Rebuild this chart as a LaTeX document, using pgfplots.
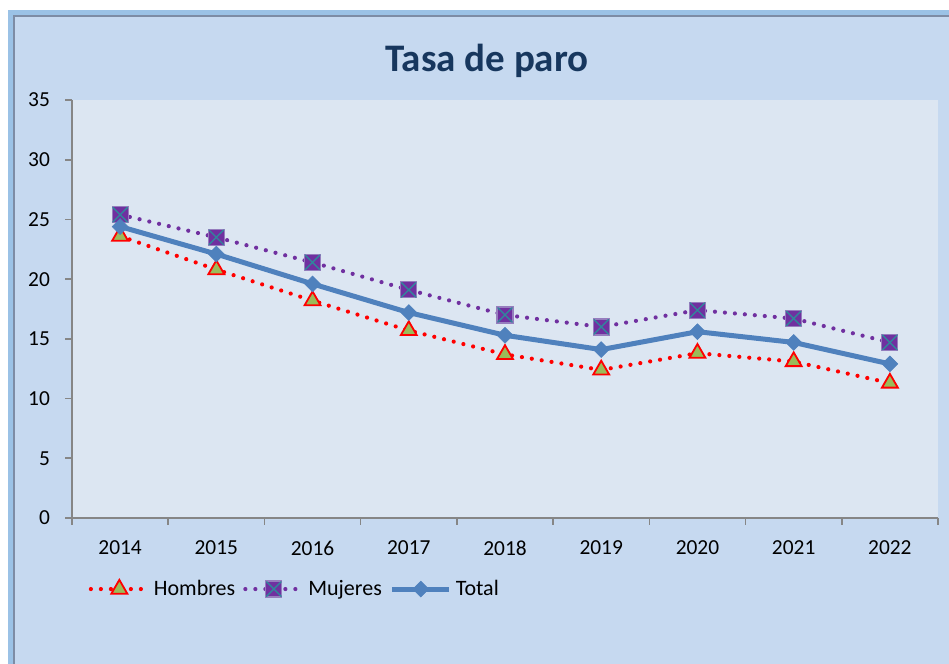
\documentclass[border=0pt]{standalone}
\usepackage{pgfplots}
\pgfplotsset{compat=1.18}
\usepackage{fontspec}
\setmainfont{Carlito}
\definecolor{chartbg}{RGB}{198,217,240}
\definecolor{plotbg}{RGB}{220,230,242}
\definecolor{borderblue}{RGB}{155,194,230}
\definecolor{bordergrey}{RGB}{125,140,165}
\definecolor{axisgray}{RGB}{134,134,134}
\definecolor{titleblue}{RGB}{23,55,94}
\definecolor{hred}{RGB}{255,0,0}
\definecolor{hgreen}{RGB}{155,187,89}
\definecolor{mpurple}{RGB}{112,48,160}
\definecolor{mstroke}{RGB}{150,125,190}
\definecolor{xteal}{RGB}{49,133,156}
\definecolor{tblue}{RGB}{79,129,189}
\pgfdeclareplotmark{sqx}{%
  \pgfpathrectangle{\pgfpoint{-\pgfplotmarksize}{-\pgfplotmarksize}}{\pgfpoint{2\pgfplotmarksize}{2\pgfplotmarksize}}%
  \pgfusepathqfillstroke
  \begin{pgfscope}%
  \pgfsetstrokecolor{xteal}%
  \pgfsetlinewidth{0.7pt}%
  \pgfpathmoveto{\pgfpoint{-0.9\pgfplotmarksize}{-0.9\pgfplotmarksize}}%
  \pgfpathlineto{\pgfpoint{0.9\pgfplotmarksize}{0.9\pgfplotmarksize}}%
  \pgfpathmoveto{\pgfpoint{-0.9\pgfplotmarksize}{0.9\pgfplotmarksize}}%
  \pgfpathlineto{\pgfpoint{0.9\pgfplotmarksize}{-0.9\pgfplotmarksize}}%
  \pgfusepathqstroke
  \end{pgfscope}%
}
\begin{document}
\begin{tikzpicture}
\useasboundingbox (0,0) rectangle (474.5pt,332pt);
\begin{scope}
\clip (0,0) rectangle (474.5pt,332pt);
\fill[white] (0,0) rectangle (474.5pt,332pt);
\fill[borderblue] ({8*0.5pt},-10pt) rectangle (490pt,{(664-10)*0.5pt});
\fill[chartbg] ({14*0.5pt},-10pt) rectangle (490pt,{(664-16)*0.5pt});
\draw[bordergrey, line width=0.6pt] ({14*0.5pt},-10pt) -- ({14*0.5pt},{(664-16)*0.5pt}) -- (490pt,{(664-16)*0.5pt});
\end{scope}
\node[font=\bfseries\fontsize{19.5}{22}\selectfont, text=titleblue, anchor=base] at ({487*0.5pt},{(664-72)*0.5pt}) {Tasa de paro};
\begin{axis}[
  at={(36pt,73pt)}, anchor=south west, scale only axis,
  width=433pt, height=209pt,
  xmin=-0.5, xmax=8.5, ymin=0, ymax=35,
  axis x line*=bottom, axis y line*=left,
  x axis line style={-, draw=axisgray, line width=0.8pt},
  y axis line style={-, draw=axisgray, line width=0.8pt},
  axis background/.style={fill=plotbg},
  xtick={0,1,2,3,4,5,6,7,8},
  xticklabels={2014,2015,2016,2017,2018,2019,2020,2021,2022},
  major x tick style={draw=none},
  minor xtick={-0.5,0.5,1.5,2.5,3.5,4.5,5.5,6.5,7.5,8.5},
  minor tick length=3.5pt,
  ytick={0,5,10,15,20,25,30,35},
  tick align=outside, major tick length=3.5pt,
  tick style={draw=axisgray, line width=0.8pt},
  ticklabel style={font=\fontsize{10.7}{12}\selectfont},
  xticklabel style={yshift=-4.5pt},
  yticklabel style={xshift=-4pt},
  /pgf/number format/assume math mode=true,
  legend style={at={(0.012,-0.17)}, anchor=west, draw=none, fill=none,
    font=\fontsize{11}{12}\selectfont,
    /tikz/every even column/.append style={column sep=2pt}},
  legend columns=3,
  legend image code/.code={\draw[mark repeat=2,mark phase=2,#1] plot coordinates {(0cm,0cm) (0.5cm,0cm) (1cm,0cm)};},
]
\addplot[hred, line width=2.1pt, dash pattern=on 0pt off 5pt, line cap=round,
  mark=triangle*, mark size=4.6pt, mark options={solid, fill=hgreen, draw=hred, line width=0.9pt}]
  coordinates {(0,23.6) (1,20.8) (2,18.2) (3,15.7) (4,13.7) (5,12.4) (6,13.8) (7,13.1) (8,11.3)};
\addlegendentry{Hombres}
\addplot[mpurple, line width=2.1pt, dash pattern=on 0pt off 5pt, line cap=round,
  mark=sqx, mark size=4pt, mark options={solid, fill=mpurple, draw=mstroke, line width=0.6pt}]
  coordinates {(0,25.4) (1,23.5) (2,21.4) (3,19.1) (4,17.0) (5,16.0) (6,17.4) (7,16.7) (8,14.7)};
\addlegendentry{Mujeres}
\addplot[tblue, line width=2.5pt,
  mark=square*, mark size=2.8pt, mark options={solid, rotate=45, fill=tblue, draw=tblue, line width=0.3pt}]
  coordinates {(0,24.4) (1,22.1) (2,19.6) (3,17.2) (4,15.3) (5,14.1) (6,15.6) (7,14.7) (8,12.9)};
\addlegendentry{Total}
\end{axis}
\end{tikzpicture}
\end{document}
